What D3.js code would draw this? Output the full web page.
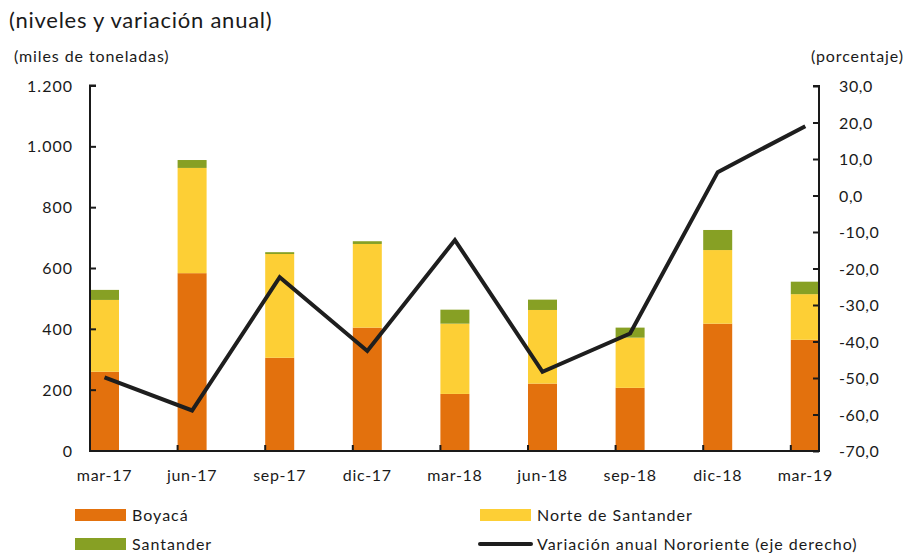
<!DOCTYPE html>
<html>
<head>
<meta charset="utf-8">
<script src="https://cdn.jsdelivr.net/npm/d3@7"></script>
<style>
  body { margin: 0; background: #fff; }
  svg text { font-family: Lato, "Noto Sans", sans-serif; fill: #1a1a1a; }
</style>
</head>
<body>
<div id="chart"></div>
<script>
// data
const periods = ["mar-17", "jun-17", "sep-17", "dic-17", "mar-18", "jun-18", "sep-18", "dic-18", "mar-19"];
const boyaca = [259, 583, 305, 404, 186, 220, 206, 417, 364];
const norteSantander = [236, 346, 341, 275, 231, 242, 165, 242, 150];
const santander = [33, 26, 6, 9, 46, 34, 33, 66, 41];
const variacion = [-49.8, -58.9, -22.4, -42.6, -12.2, -48.3, -37.8, 6.4, 19.0];
const leftTicks = [0, 200, 400, 600, 800, 1000, 1200];
const rightTicks = [30, 20, 10, 0, -10, -20, -30, -40, -50, -60, -70];

const series = [
    { name: "Boyacá", values: boyaca, color: "#e3710d" },
    { name: "Norte de Santander", values: norteSantander, color: "#fdcf35" },
    { name: "Santander", values: santander, color: "#87a024" }
];

const W = 905, H = 554;
const plot = { left: 90, right: 819, top: 86, bottom: 451 };
const step = 87.6;
const barW = 29;

const svg = d3.select("#chart").append("svg")
    .attr("width", W).attr("height", H);

// band start positions; the last bar ends on the right axis
const xScale = d3.scaleBand()
    .domain(periods)
    .range([plot.left, plot.left + step * periods.length])
    .paddingInner(0).paddingOuter(0);

const yLeft = d3.scaleLinear().domain([0, 1200]).range([plot.bottom - 0.5, plot.top - 0.5]);
const yRight = d3.scaleLinear().domain([-70, 30]).range([plot.bottom, plot.top]);

// stacked bars
const rows = periods.map((p, i) => {
    let row = { period: p };
    series.forEach(s => row[s.name] = s.values[i]);
    return row;
});
const stack = d3.stack().keys(series.map(s => s.name))(rows);

svg.append("g").selectAll("g")
    .data(stack)
    .join("g")
    .attr("fill", (d, i) => series[i].color)
    .selectAll("rect")
    .data(d => d)
    .join("rect")
    .attr("x", d => xScale(d.data.period))
    .attr("width", barW)
    .attr("y", d => yLeft(d[1]))
    .attr("height", d => yLeft(d[0]) - yLeft(d[1]));

// line on the right axis
const lineGen = d3.line()
    .x((d, i) => xScale(periods[i]) + barW / 2)
    .y(d => yRight(d));

svg.append("path")
    .datum(variacion)
    .attr("fill", "none")
    .attr("stroke", "#1e1e1e")
    .attr("stroke-width", 4)
    .attr("stroke-linejoin", "miter")
    .attr("d", lineGen);

// left axis
const leftAxis = svg.append("g")
    .attr("transform", "translate(" + plot.left + ",0)")
    .call(d3.axisRight(yLeft).tickValues(leftTicks).tickSize(6)
        .tickFormat(d => d3.format(",")(d).replace(/,/g, ".")));
leftAxis.select(".domain").attr("stroke", "#1a1a1a").attr("stroke-width", 2)
    .attr("d", "M6," + (plot.top - 0.5) + "H0V" + plot.bottom);
leftAxis.selectAll(".tick line").attr("stroke", "#1a1a1a").attr("stroke-width", 2);
leftAxis.selectAll(".tick text")
    .attr("x", -17).attr("text-anchor", "end")
    .attr("font-size", 16).attr("letter-spacing", 1).attr("dy", "0.35em");

// right axis
const rightAxis = svg.append("g")
    .attr("transform", "translate(" + plot.right + ",0)")
    .call(d3.axisLeft(yRight).tickValues(rightTicks).tickSize(6)
        .tickFormat(d => d3.format(".1f")(d).replace(".", ",").replace("−", "-")));
rightAxis.select(".domain").attr("stroke", "#1a1a1a").attr("stroke-width", 2)
    .attr("d", "M-6," + plot.top + "H0V" + plot.bottom);
rightAxis.selectAll(".tick line").attr("stroke", "#1a1a1a").attr("stroke-width", 2);
rightAxis.selectAll(".tick text")
    .attr("x", 20).attr("text-anchor", "start")
    .attr("font-size", 16).attr("letter-spacing", 0.6).attr("dy", "0.35em");

// x axis: ticks at band starts pointing up, labels under bar centres
const xAxis = svg.append("g")
    .attr("transform", "translate(0," + plot.bottom + ")");
xAxis.append("line")
    .attr("x1", plot.left - 1).attr("x2", plot.right + 1)
    .attr("stroke", "#1a1a1a").attr("stroke-width", 2);
xAxis.selectAll(".xtick")
    .data(periods.slice(1))
    .join("line")
    .attr("class", "xtick")
    .attr("x1", d => xScale(d)).attr("x2", d => xScale(d))
    .attr("y1", 0).attr("y2", -6)
    .attr("stroke", "#1a1a1a").attr("stroke-width", 2);
xAxis.selectAll(".xlabel")
    .data(periods)
    .join("text")
    .attr("class", "xlabel")
    .attr("x", d => xScale(d) + barW / 2)
    .attr("y", 30)
    .attr("text-anchor", "middle")
    .attr("font-size", 16)
    .attr("letter-spacing", 0.7)
    .text(d => d);

// titles
svg.append("text").attr("x", 9).attr("y", 28).attr("font-size", 22)
    .attr("letter-spacing", 0.75)
    .text("(niveles y variación anual)");
svg.append("text").attr("x", 14).attr("y", 62).attr("font-size", 16)
    .attr("letter-spacing", 0.9)
    .text("(miles de toneladas)");
svg.append("text").attr("x", 904).attr("y", 62).attr("font-size", 16)
    .attr("letter-spacing", 0.9)
    .attr("text-anchor", "end").text("(porcentaje)");

// legend
const legendItems = [
    { name: "Boyacá", type: "rect", color: series[0].color, x: 75, y: 515 },
    { name: "Norte de Santander", type: "rect", color: series[1].color, x: 480, y: 515 },
    { name: "Santander", type: "rect", color: series[2].color, x: 75, y: 544 },
    { name: "Variación anual Nororiente (eje derecho)", type: "line", color: "#1e1e1e", x: 480, y: 544 }
];
const legend = svg.append("g").selectAll("g")
    .data(legendItems)
    .join("g")
    .attr("transform", d => "translate(" + d.x + "," + d.y + ")");
legend.filter(d => d.type === "rect").append("rect")
    .attr("x", 0).attr("y", -6).attr("width", 51).attr("height", 12)
    .attr("fill", d => d.color);
legend.filter(d => d.type === "line").append("line")
    .attr("x1", 0).attr("x2", 51).attr("y1", 0).attr("y2", 0)
    .attr("stroke", d => d.color).attr("stroke-width", 4)
    .attr("stroke-linecap", "round");
legend.append("text")
    .attr("x", 57).attr("y", 6)
    .attr("font-size", 16)
    .attr("letter-spacing", 1)
    .text(d => d.name);
</script>
</body>
</html>
